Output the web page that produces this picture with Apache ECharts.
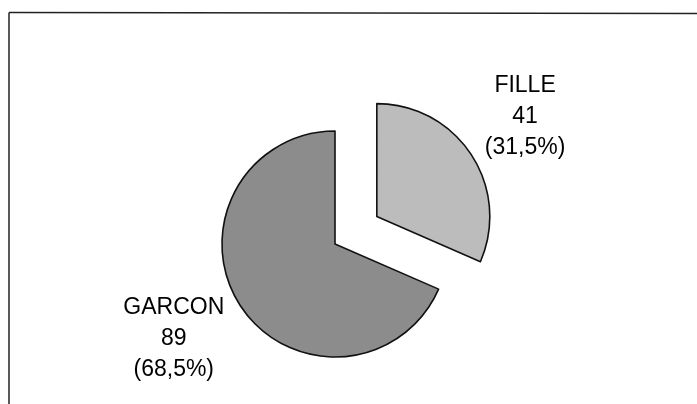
<!DOCTYPE html>
<html>
<head>
<meta charset="utf-8">
<script src="https://cdn.jsdelivr.net/npm/echarts@6/dist/echarts.min.js"></script>
<style>
html,body{margin:0;padding:0;background:#fff;}
#chart{width:697px;height:404px;}
</style>
</head>
<body>
<div id="chart"></div>
<script>
const categories = ['FILLE', 'GARCON'];
const values = [41, 89];
const colors = ['#bcbcbc', '#8c8c8c'];
const exploded = [true, false];

const CX = 335, CY = 244, R = 113, OFFSET = 50, LABEL_R = 182;
// small per-label nudges (px) to match the reference label placement
const labelNudgeX = [-4, -9];
const labelNudgeY = [0, -5];
const total = values.reduce((a, b) => a + b, 0);

function bisector(i) {
  let before = 0;
  for (let k = 0; k < i; k++) before += values[k];
  return (before + values[i] / 2) / total * 2 * Math.PI; // clockwise from 12 o'clock
}

function sliceSeries(shown) {
  const a = bisector(shown);
  const off = exploded[shown] ? OFFSET : 0;
  const ox = CX + off * Math.sin(a), oy = CY - off * Math.cos(a);
  return {
    type: 'pie',
    center: [ox, oy],
    radius: R,
    startAngle: 90,
    clockwise: true,
    silent: true,
    data: categories.map((c, i) => ({
      name: c,
      value: values[i],
      itemStyle: i === shown
        ? {color: colors[i], borderColor: '#111', borderWidth: 1.6}
        : {color: 'rgba(0,0,0,0)', borderWidth: 0},
      label: {show: i === shown}
    })),
    emphasis: {disabled: true},
    labelLine: {show: false},
    label: {
      position: 'outside',
      fontFamily: 'Liberation Sans, Arial, sans-serif',
      fontSize: 23,
      lineHeight: 31,
      color: '#000',
      align: 'center',
      formatter: p => p.name + '\n' + p.value + '\n(' + p.percent.toFixed(1).replace('.', ',') + '%)'
    },
    labelLayout: function (p) {
      const i = p.dataIndex;
      return {
        x: ox + LABEL_R * Math.sin(a) + labelNudgeX[i],
        y: oy - LABEL_R * Math.cos(a) + labelNudgeY[i],
        align: 'center',
        verticalAlign: 'middle'
      };
    }
  };
}

const chart = echarts.init(document.getElementById('chart'), null, {renderer: 'canvas'});
chart.setOption({
  backgroundColor: '#ffffff',
  animation: false,
  graphic: [
    {type: 'line', shape: {x1: 9, y1: 12.5, x2: 697, y2: 13.5}, style: {stroke: '#222', lineWidth: 1.5}},
    {type: 'line', shape: {x1: 9, y1: 12.5, x2: 9, y2: 404}, style: {stroke: '#222', lineWidth: 1.5}}
  ],
  series: categories.map((c, i) => sliceSeries(i))
});
</script>
</body>
</html>
